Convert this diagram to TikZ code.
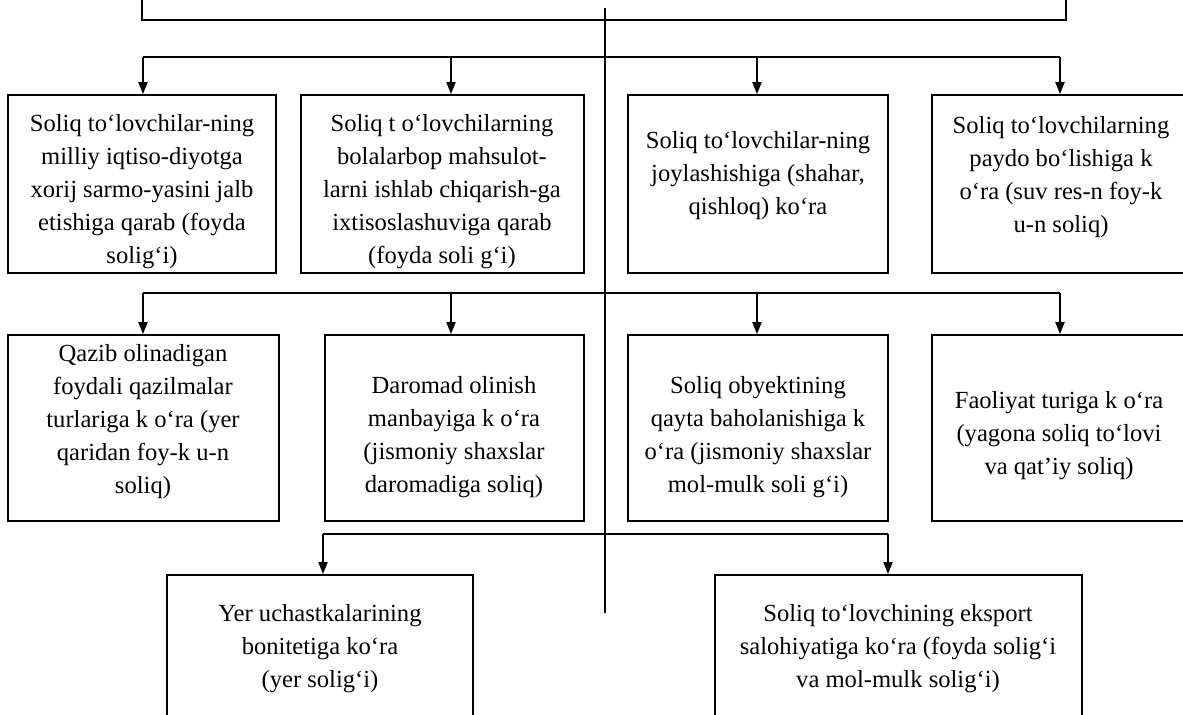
\documentclass[tikz,border=0pt]{standalone}
\usepackage{fontspec}
\setmainfont{Liberation Serif}
\usetikzlibrary{arrows.meta}
\begin{document}
\begin{tikzpicture}[x=0.5pt,y=-0.5pt,
  box/.style 2 args={draw, line width=0.9pt, inner sep=0pt, minimum width=#1*0.5pt, minimum height=#2*0.5pt},
  txt/.style={align=center, inner sep=0pt, font=\fontsize{12.3}{16.5}\selectfont},
  bus/.style={line width=1pt},
  arr/.style={line width=1pt, -{Triangle[length=6pt,width=4.5pt]}},
  axis/.style={line width=0.7pt}]
\useasboundingbox (0,0) rectangle (1183,714);
\clip (0,0) rectangle (1183,714);
% top box (cut off)
\node[box={924}{80}] (top) at (604,-20) {};
% row 1
\node[box={268}{178}] (b1) at (142,184) {};
\node[box={283}{178}] (b2) at (442.5,184) {};
\node[box={260}{178}] (b3) at (758,184) {};
\node[box={256}{178}] (b4) at (1060,184) {};
% row 2
\node[box={271}{186}] (b5) at (143.5,428) {};
\node[box={259}{186}] (b6) at (454.5,428) {};
\node[box={260}{186}] (b7) at (758,428) {};
\node[box={256}{186}] (b8) at (1060,428) {};
% row 3
\node[box={306}{160}] (b9) at (320,655) {};
\node[box={367}{160}] (b10) at (898.5,655) {};
% texts
\node[txt] (t1) at (142,192) {Soliq to‘lovchilar-ning\\milliy iqtiso-diyotga\\xorij sarmo-yasini jalb\\etishiga qarab (foyda\\solig‘i)};
\node[txt] (t2) at (442,192) {Soliq t o‘lovchilarning\\bolalarbop mahsulot-\\larni ishlab chiqarish-ga\\ixtisoslashuviga qarab\\(foyda soli g‘i)};
\node[txt] (t3) at (758,176) {Soliq to‘lovchilar-ning\\joylashishiga (shahar,\\qishloq) ko‘ra};
\node[txt] (t4) at (1061,177) {Soliq to‘lovchilarning\\paydo bo‘lishiga k\\o‘ra (suv res-n foy-k\\u-n soliq)};
\node[txt] (t5) at (143,422) {Qazib olinadigan\\foydali qazilmalar\\turlariga k o‘ra (yer\\qaridan foy-k u-n\\soliq)};
\node[txt] (t6) at (454,437) {Daromad olinish\\manbayiga k o‘ra\\(jismoniy shaxslar\\daromadiga soliq)};
\node[txt] (t7) at (758,437) {Soliq obyektining\\qayta baholanishiga k\\o‘ra (jismoniy shaxslar\\mol-mulk soli g‘i)};
\node[txt] (t8) at (1059,436) {Faoliyat turiga k o‘ra\\(yagona soliq to‘lovi\\va qat’iy soliq)};
\node[txt] (t9) at (320,649) {Yer uchastkalarining\\bonitetiga ko‘ra\\(yer solig‘i)};
\node[txt] (t10) at (898,649) {Soliq to‘lovchining eksport\\salohiyatiga ko‘ra (foyda solig‘i\\va mol-mulk solig‘i)};
% central axis
\coordinate (c0) at (605,8);
\coordinate (c1) at (605,613);
\draw[axis] (c0) -- (c1);
% bus 1
\coordinate (a1) at (143,57);
\coordinate (a2) at (451,57);
\coordinate (a3) at (757,57);
\coordinate (a4) at (1060,57);
\draw[bus] (a1) -- (a4);
\draw[arr] (a1) -- (a1 |- b1.north);
\draw[arr] (a2) -- (a2 |- b2.north);
\draw[arr] (a3) -- (a3 |- b3.north);
\draw[arr] (a4) -- (a4 |- b4.north);
% bus 2
\coordinate (d1) at (143,293);
\coordinate (d2) at (451,293);
\coordinate (d3) at (757,293);
\coordinate (d4) at (1060,293);
\draw[bus] (d1) -- (d4);
\draw[arr] (d1) -- (d1 |- b5.north);
\draw[arr] (d2) -- (d2 |- b6.north);
\draw[arr] (d3) -- (d3 |- b7.north);
\draw[arr] (d4) -- (d4 |- b8.north);
% bus 3
\coordinate (e1) at (323,534);
\coordinate (e2) at (888,534);
\draw[bus] (e1) -- (e2);
\draw[arr] (e1) -- (e1 |- b9.north);
\draw[arr] (e2) -- (e2 |- b10.north);
\end{tikzpicture}
\end{document}
